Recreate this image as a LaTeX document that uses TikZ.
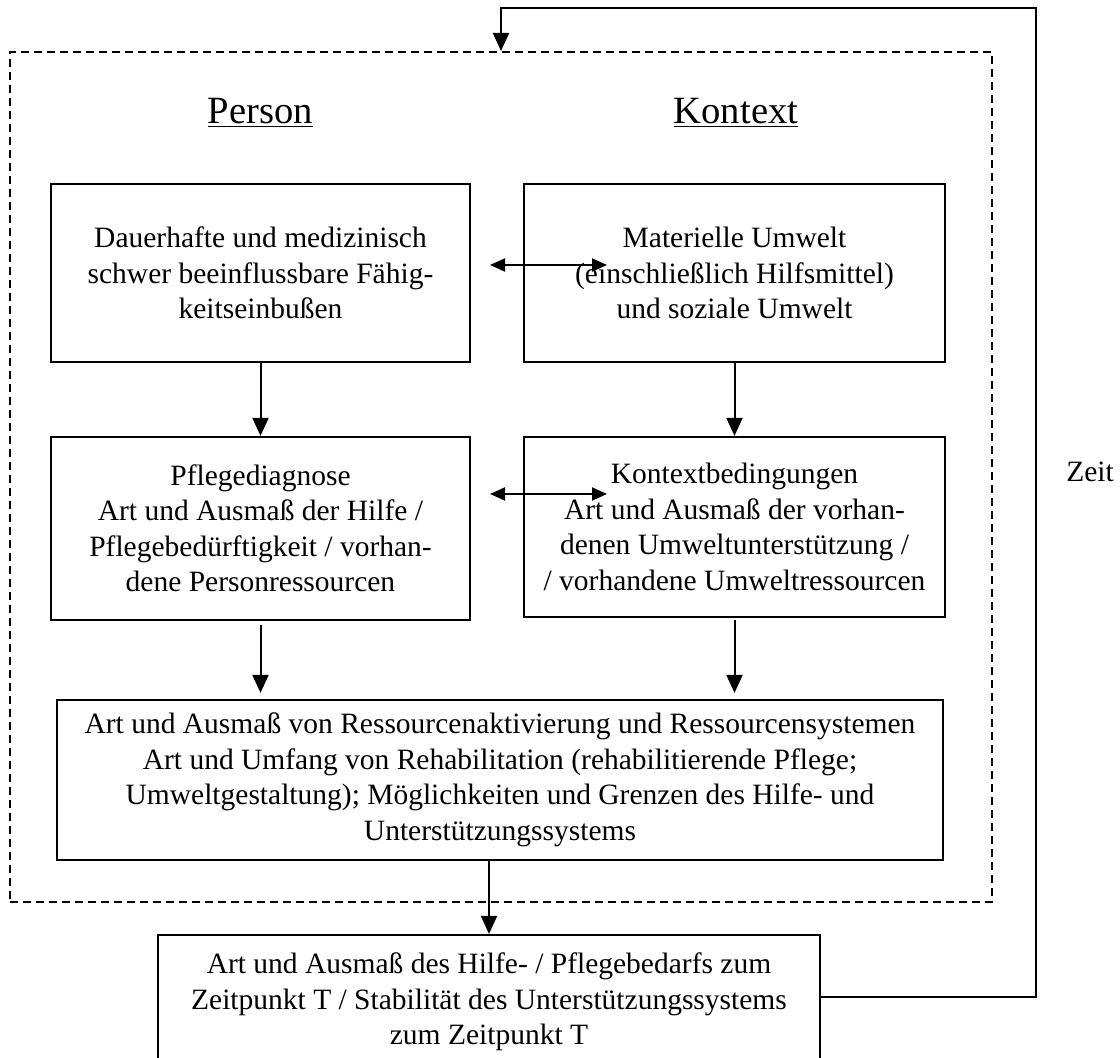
\documentclass[tikz,border=0pt]{standalone}
\usepackage{fontspec}
\setmainfont{Liberation Serif}
\usetikzlibrary{arrows.meta,calc}
\begin{document}
\begin{tikzpicture}[x=0.5pt,y=-0.5pt,
  box/.style={draw,line width=1.1pt,inner sep=0pt,align=center,font=\fontsize{14.75}{17.75}\selectfont},
  arr/.style={line width=1pt,-{Triangle[length=9pt,width=8pt]}},
  harr/.style={line width=1pt,{Triangle[length=7.5pt,width=6.5pt]}-{Triangle[length=7.5pt,width=6.5pt]}},
  head/.style={font=\fontsize{19.3}{22}\selectfont},
  frame/.style={draw,line width=1pt,dash pattern=on 4pt off 2.5pt,inner sep=0pt}]
\useasboundingbox (0,0) rectangle (1120,1058);
\clip (0,0) rectangle (1120,1058);

\node[frame,minimum width=491pt,minimum height=425pt] (fr) at (501,477) {};

\node[head] (hp) at (260.5,113) {\underline{Person}};
\node[head] (hk) at (736,113) {\underline{Kontext}};

\node[box,minimum width=209.5pt,minimum height=89pt] (b1) at (260.5,273)
  {Dauerhafte und medizinisch\\schwer beeinflussbare Fähig-\\keitseinbußen};
\node[box,minimum width=210.5pt,minimum height=89pt] (b2) at (734.5,273)
  {Materielle Umwelt\\(einschließlich Hilfsmittel)\\und soziale Umwelt};
\node[box,minimum width=209.5pt,minimum height=91.5pt] (b3) at (260.5,528.5)
  {Pflegediagnose\\Art und Ausmaß der Hilfe /\\Pflegebedürftigkeit / vorhan-\\dene Personressourcen};
\node[box,minimum width=210.5pt,minimum height=90pt] (b4) at (734.5,527)
  {Kontextbedingungen\\Art und Ausmaß der vorhan-\\denen Umweltunterstützung /\\/ vorhandene Umweltressourcen};
\node[box,minimum width=443pt,minimum height=80pt] (b5) at (500,780)
  {Art und Ausmaß von Ressourcenaktivierung und Ressourcensystemen\\Art und Umfang von Rehabilitation (rehabilitierende Pflege;\\Umweltgestaltung); Möglichkeiten und Grenzen des Hilfe- und\\Unterstützungssystems};
\node[box,minimum width=331pt,minimum height=67pt] (b6) at (489,1002)
  {Art und Ausmaß des Hilfe- / Pflegebedarfs zum\\Zeitpunkt T / Stabilität des Unterstützungssystems\\zum Zeitpunkt T};

\node[font=\fontsize{14.75}{17.75}\selectfont] (zeit) at (1090,472) {Zeit};

% vertical arrows
\draw[arr] (b1.south) -- (b3.north);
\draw[arr] (b2.south) -- (b4.north);
\draw[arr] ($(b3.south)+(0,4)$) -- ($(b5.north -| b3.south)+(0,-6)$);
\draw[arr] ($(b4.south)+(0,2)$) -- ($(b5.north -| b4.south)+(0,-6)$);
\draw[arr] (b5.south -| b6.north) -- (b6.north);

% double arrows
\coordinate (d1) at (490,265);
\coordinate (d2) at (607,265);
\coordinate (d3) at (490,494);
\coordinate (d4) at (607,494);
\draw[harr] (d1) -- (d2);
\draw[harr] (d3) -- (d4);

% feedback loop
\coordinate (c1) at (1036,997);
\coordinate (c2) at (501,8);
\draw[arr] ($(b6.east)+(0,-5)$) -- (c1) |- (c2) -- (fr.north -| c2);
\end{tikzpicture}
\end{document}
